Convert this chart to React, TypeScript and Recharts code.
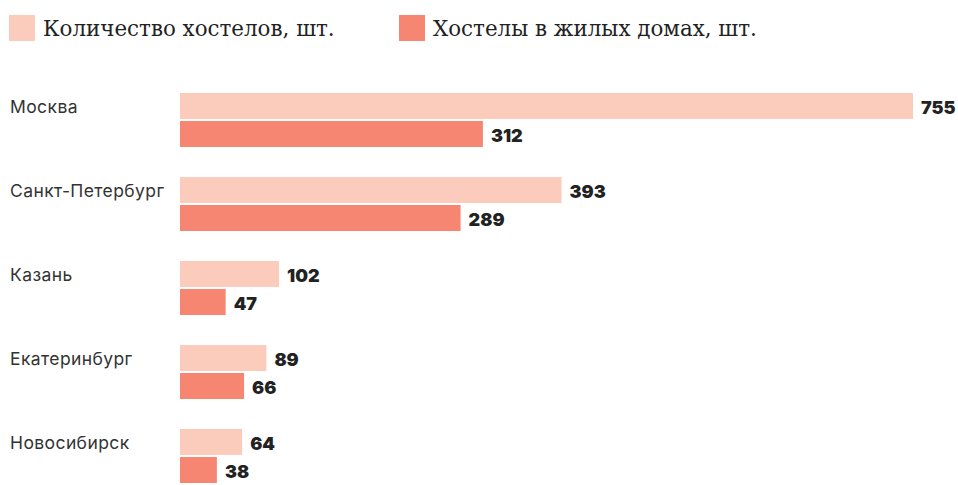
import { BarChart, Bar, XAxis, YAxis, LabelList } from "recharts";

const cities = ["Москва", "Санкт-Петербург", "Казань", "Екатеринбург", "Новосибирск"];
const totalHostels = [755, 393, 102, 89, 64];
const residentialHostels = [312, 289, 47, 66, 38];

const seriesNames = ["Количество хостелов, шт.", "Хостелы в жилых домах, шт."];
const colors = ["#FBCCBC", "#F68672"];

const data = cities.map((city, i) => ({
  city,
  total: totalHostels[i],
  residential: residentialHostels[i],
}));

const CityTick = (props: any) => {
  const { y, payload } = props;
  return (
    <text
      x={10}
      y={y - 14}
      dominantBaseline="central"
      textAnchor="start"
      fill="#333"
      fontSize={17.5}
      letterSpacing={0.4}
      fontFamily="Inter, sans-serif"
    >
      {payload.value}
    </text>
  );
};

const ValueLabel = (props: any) => {
  const { x, y, width, height, value } = props;
  return (
    <text
      x={x + width + 8}
      y={y + height / 2 + 1}
      dominantBaseline="central"
      fill="#222"
      fontSize={18}
      fontWeight={900}
      fontFamily="Inter, sans-serif"
    >
      {value}
    </text>
  );
};

export default function App() {
  return (
    <div style={{ position: "relative", width: 958, height: 485, overflow: "hidden", background: "#fff" }}>
      <style>{"body{margin:0}"}</style>
      <div
        style={{
          position: "absolute",
          top: 15,
          left: 9,
          display: "flex",
          alignItems: "center",
          fontFamily: "'DejaVu Serif', serif",
          fontSize: 21.4,
          color: "#222",
        }}
      >
        {seriesNames.map((name, i) => (
          <div key={name} style={{ display: "flex", alignItems: "center", width: i === 0 ? 390 : "auto" }}>
            <div style={{ width: 26, height: 26, background: colors[i], marginRight: 8 }} />
            <span>{name}</span>
          </div>
        ))}
      </div>
      <BarChart
        width={958}
        height={498}
        data={data}
        layout="vertical"
        margin={{ top: 78, right: 45, left: 0, bottom: 0 }}
        barSize={26}
        barGap={2}
      >
        <XAxis type="number" domain={[0, 755]} hide />
        <YAxis
          type="category"
          dataKey="city"
          width={180}
          axisLine={false}
          tickLine={false}
          tick={<CityTick />}
          interval={0}
        />
        <Bar dataKey="total" fill={colors[0]} isAnimationActive={false}>
          <LabelList dataKey="total" content={<ValueLabel />} />
        </Bar>
        <Bar dataKey="residential" fill={colors[1]} isAnimationActive={false}>
          <LabelList dataKey="residential" content={<ValueLabel />} />
        </Bar>
      </BarChart>
    </div>
  );
}
